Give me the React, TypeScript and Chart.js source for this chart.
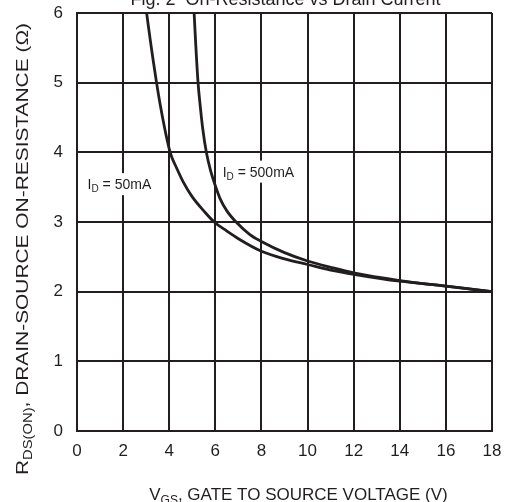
import React, { useEffect, useRef } from 'react';
import { Chart, registerables } from 'chart.js';

Chart.register(...registerables);

const titleText = 'Fig. 2  On-Resistance vs Drain Current';

const vgs50 = [3.02, 3.1, 3.2, 3.3, 3.45, 3.6, 3.8, 4.0, 4.1, 4.3, 4.6, 5.0, 5.5, 5.95, 6.5, 7.0, 8.0, 9.0, 10.0, 11.0, 12.0, 14.0, 16.0, 18.0];
const rds50 = [6.0, 5.8, 5.56, 5.33, 5.0, 4.7, 4.35, 4.05, 3.94, 3.79, 3.58, 3.36, 3.16, 3.0, 2.87, 2.76, 2.58, 2.47, 2.39, 2.31, 2.25, 2.15, 2.08, 2.0];

const vgs500 = [5.08, 5.15, 5.25, 5.35, 5.45, 5.61, 5.8, 6.0, 6.2, 6.5, 6.9, 7.5, 8.0, 9.0, 10.0, 11.0, 12.0, 14.0, 16.0, 18.0];
const rds500 = [6.0, 5.55, 5.0, 4.65, 4.35, 4.0, 3.73, 3.52, 3.34, 3.16, 3.0, 2.82, 2.72, 2.56, 2.44, 2.35, 2.27, 2.16, 2.08, 2.0];

const xMin = 0, xMax = 18, xStep = 2;
const yMin = 0, yMax = 6, yStep = 1;

const label50 = { main: 'I', sub: 'D', rest: ' = 50mA', v: 1.84, r: 3.5 };
const label500 = { main: 'I', sub: 'D', rest: ' = 500mA', v: 7.87, r: 3.68 };

const INK = '#221e1f';
const FONT = '"Liberation Sans", Arial, sans-serif';

function drawSubText(ctx: CanvasRenderingContext2D, parts: { t: string; size: number; dy: number }[], x: number, y: number, align: 'left' | 'center') {
  let total = 0;
  const widths = parts.map(p => {
    ctx.font = `${p.size}px ${FONT}`;
    const w = ctx.measureText(p.t).width;
    total += w;
    return w;
  });
  let cx = align === 'center' ? x - total / 2 : x;
  ctx.textAlign = 'left';
  ctx.textBaseline = 'alphabetic';
  parts.forEach((p, i) => {
    ctx.font = `${p.size}px ${FONT}`;
    ctx.fillText(p.t, cx, y + p.dy);
    cx += widths[i];
  });
  return total;
}

const textPlugin = {
  id: 'textPlugin',
  afterDraw(chart: any) {
    const ctx: CanvasRenderingContext2D = chart.ctx;
    const xs = chart.scales.x;
    const ys = chart.scales.y;
    ctx.save();
    ctx.fillStyle = INK;
    ctx.font = `18px ${FONT}`;
    ctx.textAlign = 'center';
    ctx.textBaseline = 'alphabetic';
    ctx.fillText(titleText, 285.5, 5);

    drawSubText(ctx, [
      { t: 'V', size: 17, dy: 0 },
      { t: 'GS', size: 12, dy: 4 },
      { t: ', GATE TO SOURCE VOLTAGE (V)', size: 17, dy: 0 },
    ], 298.5, 500, 'center');

    ctx.save();
    ctx.translate(28, 249);
    ctx.rotate(-Math.PI / 2);
    const yParts = [
      { t: 'R', size: 17, dy: 0 },
      { t: 'DS(ON)', size: 12, dy: 4 },
      { t: ', DRAIN-SOURCE ON-RESISTANCE (Ω)', size: 17, dy: 0 },
    ];
    let tw = 0;
    yParts.forEach(p => { ctx.font = `${p.size}px ${FONT}`; tw += ctx.measureText(p.t).width; });
    ctx.scale(452 / tw, 1);
    drawSubText(ctx, yParts, 0, 0, 'center');
    ctx.restore();

    [label50, label500].forEach(l => {
      const px = xs.getPixelForValue(l.v);
      const py = ys.getPixelForValue(l.r);
      const parts = [
        { t: l.main, size: 14, dy: 0 },
        { t: l.sub, size: 10, dy: 3 },
        { t: l.rest, size: 14, dy: 0 },
      ];
      let w = 0;
      parts.forEach(p => { ctx.font = `${p.size}px ${FONT}`; w += ctx.measureText(p.t).width; });
      ctx.fillStyle = '#ffffff';
      ctx.fillRect(px - w / 2 - 3, py - 14, w + 6, 22);
      ctx.fillStyle = INK;
      drawSubText(ctx, parts, px, py + 2, 'center');
    });
    ctx.restore();
  },
};

export default function App() {
  const ref = useRef<HTMLCanvasElement>(null);
  useEffect(() => {
    if (!ref.current) return;
    const chart = new Chart(ref.current, {
      type: 'line',
      data: {
        datasets: [
          {
            label: 'ID = 50mA',
            data: vgs50.map((v, i) => ({ x: v, y: rds50[i] })),
            borderColor: INK,
            borderWidth: 2.8,
            pointRadius: 0,
            cubicInterpolationMode: 'monotone',
            fill: false,
          },
          {
            label: 'ID = 500mA',
            data: vgs500.map((v, i) => ({ x: v, y: rds500[i] })),
            borderColor: INK,
            borderWidth: 2.8,
            pointRadius: 0,
            cubicInterpolationMode: 'monotone',
            fill: false,
          },
        ],
      },
      options: {
        responsive: false,
        animation: false,
        devicePixelRatio: 1,
        layout: { padding: { top: 13, right: 13, left: 0, bottom: 0 } },
        plugins: {
          legend: { display: false },
          title: { display: false },
          tooltip: { enabled: false },
        },
        scales: {
          x: {
            type: 'linear',
            min: xMin,
            max: xMax,
            ticks: { stepSize: xStep, color: INK, font: { size: 17, family: FONT }, padding: 10, maxRotation: 0 },
            grid: { color: INK, lineWidth: 2, drawTicks: false },
            border: { color: INK, width: 2 },
            afterFit: (s: any) => { s.height = 71; s.paddingLeft = 0; s.paddingRight = 0; },
          },
          y: {
            type: 'linear',
            min: yMin,
            max: yMax,
            ticks: { stepSize: yStep, color: INK, font: { size: 17, family: FONT }, padding: 14 },
            grid: { color: INK, lineWidth: 2, drawTicks: false },
            border: { color: INK, width: 2 },
            afterFit: (s: any) => { s.width = 77; s.paddingTop = 0; s.paddingBottom = 0; },
          },
        },
      },
      plugins: [textPlugin],
    } as any);
    return () => chart.destroy();
  }, []);
  return (
    <div style={{ position: 'fixed', left: 0, top: 0, width: 505, height: 502, background: '#fff' }}>
      <canvas ref={ref} width={505} height={502} />
    </div>
  );
}
